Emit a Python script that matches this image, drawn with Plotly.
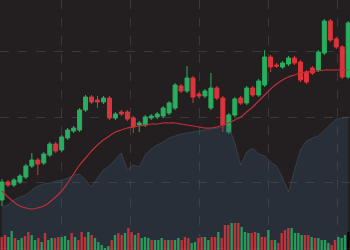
import plotly.graph_objects as go

# ---- candle data (price units) ----
opens  = [50,68,65,68,73,84,90,87,95,106,100,112,119,120,140,153,150,148,152,132,138,138,132,125,125,132,133,134,137,142,
          164,159,172,156,154,142,162,152,118,135,152,147,162,155,165,193,185,183,186,192,188,178,182,180,197,229,211,203,173]
highs  = [71,70,72,76,86,97,92,98,108,108,115,122,124,142,155,155,154,154,154,138,140,140,134,129,135,136,138,144,149,167,
          166,184,174,158,161,177,164,154,137,153,154,164,164,171,200,195,187,189,194,194,190,180,184,200,231,231,213,205,229]
lows   = [44,63,63,66,71,82,75,85,93,97,98,110,117,118,138,146,142,146,130,130,134,129,117,118,123,130,131,132,135,140,
          157,157,147,152,152,140,150,118,116,133,145,145,153,153,163,178,182,181,184,185,168,166,175,178,195,208,201,171,171]
closes = [68,65,70,74,84,90,86,96,106,99,113,120,122,140,153,148,148,152,132,136,136,131,123,127,133,134,136,142,147,165,
          159,172,153,154,159,162,152,125,135,151,147,162,155,169,193,183,184,187,192,187,170,168,177,198,229,210,203,173,227]

# ---- smooth moving-average line (read per candle) ----
ma_line = [59,53,48,44,42,41,42,44,48,53,59,67,76,85,92,99,105,110,114,118,120,122,123,124,125,126,126,127,127,127,
           126,125,124,123,122,122,123,125,127,130,133,138,143,149,155,161,166,170,173,175,177,178,179,179,180,180,180,180,180]

# ---- background area series (read per candle) ----
area_vals = [43,45,50,53,55,60,64,66,67,69,70,72,75,76,70,63,72,80,84,90,97,80,85,83,95,101,105,108,112,114,
             116,117,118,119,120,121,122,123,124,107,85,98,102,96,94,88,84,72,58,80,100,109,112,114,120,125,131,132,133]

# ---- volume bars ----
vol_vals = [13,15,13,19,12,10,12,14,18,15,10,12,8,17,10,12,12,13,13,14,10,17,13,10,18,13,18,15,12,8,5,2,4,10,15,17,
            15,17,22,18,15,17,12,13,12,10,10,10,12,10,10,10,10,12,10,13,12,7,8,12,13,13,10,13,13,18,12,25,25,27,27,
            27,23,18,17,17,18,17,13,13,20,10,10,7,17,20,22,22,17,17,15,15,15,13,12,12,10,10,7,5,10,13,12,15,18]
vol_up = "RRGGRGGRRGGRGRGGRRGGGRGRRRGRGGGGGRGR" \
         "RGRRGRGGGRGGGRGRGGRRRGGRRGGRRGRRRG" \
         "RRGGGRRGRRGRGRRRRGGGGRRGRGGGGRRGGG"

candle_x = list(range(len(opens)))
vol_x = list(range(len(vol_vals)))

BG = "#231f20"
GREEN = "#28ae5e"
RED = "#dc343b"

fig = go.Figure()

fig.add_trace(go.Scatter(
    x=candle_x, y=area_vals, mode="lines", fill="tozeroy",
    line=dict(color="rgba(85,105,130,0.35)", width=1),
    fillcolor="rgba(55,85,115,0.3)", hoverinfo="skip", showlegend=False,
))

fig.add_trace(go.Bar(
    x=vol_x, y=vol_vals, xaxis="x2", yaxis="y",
    marker=dict(color=[GREEN if c == "G" else RED for c in vol_up[:len(vol_vals)]], line=dict(width=0)),
    opacity=0.85, showlegend=False,
))

fig.add_trace(go.Scatter(
    x=candle_x, y=ma_line, mode="lines", line=dict(color="#bd303a", width=1.2, shape="spline"),
    showlegend=False,
))

fig.add_trace(go.Candlestick(
    x=candle_x, open=opens, high=highs, low=lows, close=closes,
    increasing=dict(line=dict(color=GREEN, width=1), fillcolor=GREEN),
    decreasing=dict(line=dict(color=RED, width=1), fillcolor=RED),
    whiskerwidth=0, showlegend=False,
))

grid = dict(showgrid=True, gridcolor="rgba(120,115,115,0.3)", griddash="dash", gridwidth=1,
            zeroline=False, showticklabels=False, ticks="", showline=False)

fig.update_layout(
    width=350, height=250, margin=dict(l=0, r=0, t=0, b=0),
    paper_bgcolor=BG, plot_bgcolor=BG, showlegend=False, bargap=0.3, boxgap=0.05,
    xaxis=dict(range=[-0.335, 58.3], tickmode="linear", tick0=10.05, dtick=11.52,
               rangeslider=dict(visible=False), **grid),
    xaxis2=dict(range=[-0.5, 104.5], overlaying="x", visible=False),
    yaxis=dict(range=[0, 250], tickmode="linear", tick0=2, dtick=65.5, **grid),
)

fig.write_html("out.html")
